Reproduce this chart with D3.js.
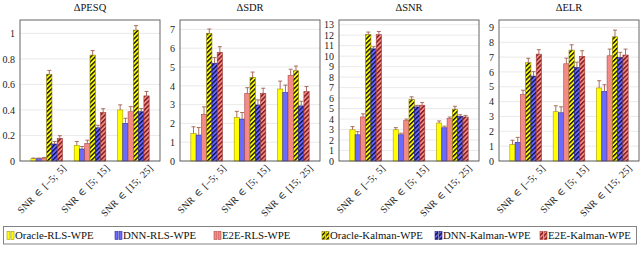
<!DOCTYPE html>
<html><head><meta charset="utf-8">
<script src="https://cdn.jsdelivr.net/npm/d3@7"></script>
<style>body{margin:0;background:#fff}svg{display:block}</style>
</head><body>
<svg id="c" width="640" height="259"></svg>
<script>
const metrics = ["ΔPESQ", "ΔSDR", "ΔSNR", "ΔELR"];
const groups = ["SNR ∈ [−5; 5]", "SNR ∈ [5; 15]", "SNR ∈ [15; 25]"];
const methods = ["Oracle-RLS-WPE", "DNN-RLS-WPE", "E2E-RLS-WPE", "Oracle-Kalman-WPE", "DNN-Kalman-WPE", "E2E-Kalman-WPE"];

// values[group][method]
const pesqValues = [[0.018, 0.018, 0.023, 0.68, 0.133, 0.178], [0.123, 0.094, 0.138, 0.83, 0.26, 0.38], [0.40, 0.295, 0.386, 1.026, 0.386, 0.51]];
const pesqErrors = [[0.005, 0.005, 0.005, 0.03, 0.02, 0.02], [0.03, 0.02, 0.025, 0.035, 0.02, 0.03], [0.04, 0.04, 0.04, 0.035, 0.025, 0.035]];
const sdrValues = [[1.47, 1.38, 2.48, 6.79, 5.2, 5.78], [2.32, 2.23, 3.6, 4.45, 2.98, 3.6], [3.83, 3.65, 4.56, 4.8, 2.93, 3.69]];
const sdrErrors = [[0.35, 0.4, 0.4, 0.23, 0.3, 0.3], [0.32, 0.35, 0.3, 0.28, 0.27, 0.27], [0.42, 0.39, 0.32, 0.25, 0.25, 0.27]];
const snrValues = [[2.98, 2.5, 4.2, 12.05, 10.7, 12.05], [2.98, 2.5, 3.85, 5.87, 5.16, 5.32], [3.62, 3.17, 4.04, 4.94, 4.26, 4.2]];
const snrErrors = [[0.3, 0.3, 0.3, 0.25, 0.2, 0.3], [0.2, 0.15, 0.15, 0.25, 0.15, 0.25], [0.2, 0.15, 0.15, 0.28, 0.15, 0.15]];
const elrValues = [[1.1, 1.26, 4.47, 6.62, 5.72, 7.2], [3.32, 3.25, 6.55, 7.47, 6.3, 7.05], [4.92, 4.69, 7.09, 8.37, 6.98, 7.14]];
const elrErrors = [[0.3, 0.33, 0.3, 0.3, 0.3, 0.3], [0.4, 0.4, 0.38, 0.36, 0.36, 0.38], [0.49, 0.45, 0.45, 0.45, 0.34, 0.4]];

const pesqTicks = [0, 0.2, 0.4, 0.6, 0.8, 1];
const sdrTicks = [0, 1, 2, 3, 4, 5, 6, 7];
const snrTicks = [0, 1, 2, 3, 4, 5, 6, 7, 8, 9, 10, 11, 12, 13];
const elrTicks = [0, 1, 2, 3, 4, 5, 6, 7, 8, 9];
const yMax = [1.105, 7.5, 13.45, 9.5];

const panels = [
  {title: metrics[0], values: pesqValues, errors: pesqErrors, ticks: pesqTicks, max: yMax[0]},
  {title: metrics[1], values: sdrValues, errors: sdrErrors, ticks: sdrTicks, max: yMax[1]},
  {title: metrics[2], values: snrValues, errors: snrErrors, ticks: snrTicks, max: yMax[2]},
  {title: metrics[3], values: elrValues, errors: elrErrors, ticks: elrTicks, max: yMax[3]}
];

const fills = ["#ffff00", "#6a6aff", "#f28a86", "url(#hatchY)", "url(#hatchB)", "url(#hatchR)"];
const strokes = ["#a89a00", "#2a2aa0", "#b04848", "#8a7a00", "#1a1a80", "#a03838"];
const font = "'Liberation Serif', 'DejaVu Serif', serif";

const svg = d3.select("#c");
const defs = svg.append("defs");
function hatch(id, bg, fg) {
  const p = defs.append("pattern").attr("id", id).attr("patternUnits", "userSpaceOnUse")
    .attr("width", 3.2).attr("height", 3.2).attr("patternTransform", "rotate(45)");
  p.append("rect").attr("width", 3.2).attr("height", 3.2).attr("fill", bg);
  p.append("rect").attr("x", 0).attr("width", 1.4).attr("height", 3.2).attr("fill", fg);
}
hatch("hatchY", "#ffff00", "#111");
hatch("hatchB", "#6a6aff", "#101050");
hatch("hatchR", "#f28a86", "#7a1818");

const lefts = [20, 180, 339, 499];
const W = 140, plotTop = 20, plotBottom = 161;

panels.forEach((p, i) => {
  const g = svg.append("g").attr("transform", `translate(${lefts[i]},0)`);
  const y = d3.scaleLinear().domain([0, p.max]).range([plotBottom, plotTop]);
  const x0 = d3.scaleBand().domain(groups).range([0, W]).paddingOuter(0.25).paddingInner(0.27);
  const x1 = d3.scaleBand().domain(methods).range([0, x0.bandwidth()]);

  // grid
  g.append("g").selectAll("line").data(p.ticks).join("line")
    .attr("x1", 0).attr("x2", W).attr("y1", d => y(d)).attr("y2", d => y(d))
    .attr("stroke", "#e4e4e4").attr("stroke-width", 0.8);

  // y axis
  const ax = g.append("g").call(d3.axisLeft(y).tickValues(p.ticks).tickSize(0).tickPadding(5)
    .tickFormat(d => (d3.format("~g")(d))));
  ax.select(".domain").remove();
  ax.selectAll("text").attr("font-family", font).attr("font-size", 10).attr("fill", "#222");

  // bars
  const gg = g.append("g").selectAll("g").data(groups).join("g")
    .attr("transform", d => `translate(${x0(d)},0)`);
  gg.each(function(grp, gi) {
    const sel = d3.select(this);
    methods.forEach((m, mi) => {
      const v = p.values[gi][mi], e = p.errors[gi][mi];
      const bx = x1(m), bw = x1.bandwidth();
      sel.append("rect").attr("x", bx).attr("y", y(v)).attr("width", bw).attr("height", y(0) - y(v))
        .attr("fill", fills[mi]).attr("stroke", strokes[mi]).attr("stroke-width", 0.6);
      const cx = bx + bw / 2;
      sel.append("line").attr("x1", cx).attr("x2", cx).attr("y1", y(v)).attr("y2", y(v + e))
        .attr("stroke", "#a06050").attr("stroke-width", 0.9);
      sel.append("line").attr("x1", cx - 2).attr("x2", cx + 2).attr("y1", y(v + e)).attr("y2", y(v + e))
        .attr("stroke", "#a06050").attr("stroke-width", 0.9);
    });
  });

  // frame
  g.append("rect").attr("x", 0).attr("y", plotTop).attr("width", W).attr("height", plotBottom - plotTop)
    .attr("fill", "none").attr("stroke", "#555").attr("stroke-width", 0.9);

  // x labels
  g.append("g").selectAll("text").data(groups).join("text")
    .attr("transform", d => `translate(${x0(d) + x0.bandwidth() / 2 + 20},${plotBottom + 8}) rotate(-45)`)
    .attr("text-anchor", "end").attr("font-family", font).attr("font-size", 10)
    .attr("word-spacing", 1.5).attr("fill", "#222")
    .text(d => d);

  // title
  g.append("text").attr("x", W / 2).attr("y", 11).attr("text-anchor", "middle")
    .attr("font-family", font).attr("font-size", 10.5).attr("fill", "#111").text(p.title);
});

// legend
const leg = svg.append("g");
leg.append("rect").attr("x", 3.5).attr("y", 226.5).attr("width", 633).attr("height", 17.5)
  .attr("fill", "#fff").attr("stroke", "#777").attr("stroke-width", 0.9);
const legX = [6, 114, 213, 321, 434, 539];
methods.forEach((m, i) => {
  const lg = leg.append("g").attr("transform", `translate(${legX[i]},0)`);
  [0, 4].forEach(dx => lg.append("rect").attr("x", 1 + dx).attr("y", 231.5).attr("width", 3).attr("height", 8)
    .attr("fill", fills[i]).attr("stroke", strokes[i]).attr("stroke-width", 0.6));
  lg.append("text").attr("x", 9).attr("y", 239).attr("font-family", font).attr("font-size", 10.8)
    .attr("fill", "#111").text(m);
});
</script>
</body></html>
